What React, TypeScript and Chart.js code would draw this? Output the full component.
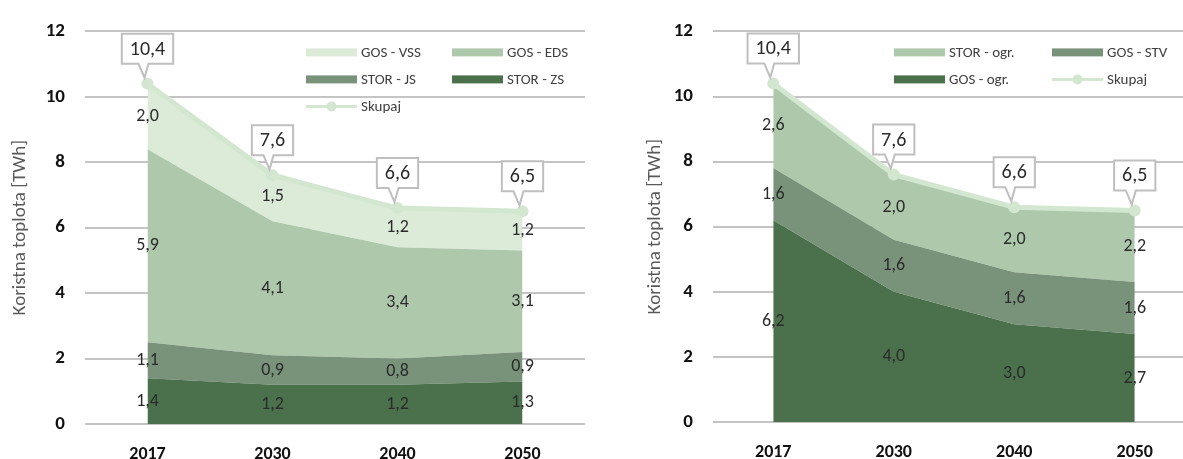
import React, { useEffect, useRef } from "react";
import { Chart, registerables } from "chart.js";

Chart.register(...registerables);

const FONT = "Carlito, Lato, 'Open Sans', sans-serif";

// ---- data ----
const years = ["2017", "2030", "2040", "2050"];
const yMin = 0;
const yMax = 12;
const yStep = 2;

const leftStorZS = [1.4, 1.2, 1.2, 1.3];
const leftStorJS = [1.1, 0.9, 0.8, 0.9];
const leftGosEDS = [5.9, 4.1, 3.4, 3.1];
const leftGosVSS = [2.0, 1.5, 1.2, 1.2];
const leftTotal = [10.4, 7.6, 6.6, 6.5];

const rightGosOgr = [6.2, 4.0, 3.0, 2.7];
const rightGosSTV = [1.6, 1.6, 1.6, 1.6];
const rightStorOgr = [2.6, 2.0, 2.0, 2.2];
const rightTotal = [10.4, 7.6, 6.6, 6.5];

const yTitle = "Koristna toplota [TWh]";
const totalLabel = "Skupaj";

// ---- colours ----
const C_DARK = "#4b704c";
const C_MID = "#79937a";
const C_LIGHT = "#aec8ac";
const C_PALE = "#dbebd7";
const C_LINE = "#d3e7d0";

type Area = { label: string; data: number[]; color: string };
type LegendItem = { label: string; color: string; type: "area" | "line"; col: number; row: number };

const fmt = (v: number) => v.toFixed(1).replace(".", ",");

function buildChart(
  canvas: HTMLCanvasElement,
  areas: Area[],
  total: number[],
  legend: LegendItem[],
  yWidth: number,
  xHeight: number,
  padRight: number,
  titlePad: number
) {
  const datasets: any[] = areas.map((a, i) => ({
    type: "line",
    label: a.label,
    data: a.data,
    backgroundColor: a.color,
    borderColor: a.color,
    borderWidth: 0,
    pointRadius: 0,
    fill: i === 0 ? "origin" : "-1",
    tension: 0,
    stack: "areas",
    order: 1,
  }));
  datasets.push({
    type: "line",
    label: totalLabel,
    data: total,
    borderColor: C_LINE,
    backgroundColor: C_LINE,
    borderWidth: 5,
    pointRadius: 6,
    pointBorderWidth: 0,
    pointBackgroundColor: C_LINE,
    fill: false,
    tension: 0,
    stack: "total",
    order: 0,
  });
  const areaCount = areas.length;

  const overlay = {
    id: "overlay",
    afterDatasetsDraw(chart: any) {
      const ctx = chart.ctx;
      const y = chart.scales.y;
      ctx.save();
      // value labels in the middle of each band
      ctx.font = `18px ${FONT}`;
      ctx.fillStyle = "#2b2b2b";
      ctx.textAlign = "center";
      ctx.textBaseline = "middle";
      const base = years.map(() => 0);
      areas.forEach((a, di) => {
        const meta = chart.getDatasetMeta(di);
        a.data.forEach((v, i) => {
          const px = meta.data[i].x;
          const py = y.getPixelForValue(base[i] + v / 2);
          ctx.fillText(fmt(v), px, py);
          base[i] += v;
        });
      });
      // callouts for the total
      const tm = chart.getDatasetMeta(areaCount);
      tm.data.forEach((pt: any, i: number) => {
        const text = fmt(total[i]);
        ctx.font = `20px ${FONT}`;
        const w = ctx.measureText(text).width + 16;
        const h = 30;
        const cx = pt.x;
        const bottom = pt.y - 20;
        const top = bottom - h;
        const left = cx - w / 2;
        ctx.beginPath();
        ctx.moveTo(left, top);
        ctx.lineTo(left + w, top);
        ctx.lineTo(left + w, bottom);
        ctx.lineTo(cx + 1, bottom);
        ctx.lineTo(cx - 3, pt.y - 6);
        ctx.lineTo(cx - 9, bottom);
        ctx.lineTo(left, bottom);
        ctx.closePath();
        ctx.fillStyle = "#ffffff";
        ctx.fill();
        ctx.lineWidth = 2;
        ctx.strokeStyle = "#bfbfbf";
        ctx.stroke();
        ctx.fillStyle = "#2b2b2b";
        ctx.fillText(text, cx, top + h / 2 + 1);
      });
      // legend
      const ca = chart.chartArea;
      ctx.font = `15px ${FONT}`;
      ctx.textAlign = "left";
      legend.forEach((it) => {
        const lx = ca.left + it.col;
        const ly = ca.top + 21 + it.row * 27;
        if (it.type === "area") {
          ctx.fillStyle = it.color;
          ctx.fillRect(lx, ly - 4, 51, 8);
        } else {
          ctx.strokeStyle = it.color;
          ctx.lineWidth = 3;
          ctx.beginPath();
          ctx.moveTo(lx, ly);
          ctx.lineTo(lx + 51, ly);
          ctx.stroke();
          ctx.fillStyle = it.color;
          ctx.beginPath();
          ctx.arc(lx + 25.5, ly, 5, 0, Math.PI * 2);
          ctx.fill();
        }
        ctx.fillStyle = "#404040";
        ctx.fillText(it.label, lx + 55, ly + 1);
      });
      ctx.restore();
    },
  };

  return new Chart(canvas, {
    type: "line",
    data: { labels: years, datasets },
    plugins: [overlay],
    options: {
      responsive: false,
      animation: false,
      devicePixelRatio: 1,
      layout: { padding: { top: 24, right: padRight, bottom: 0, left: 0 } },
      plugins: { legend: { display: false }, tooltip: { enabled: false } },
      scales: {
        x: {
          offset: true,
          grid: { display: false, drawTicks: false },
          border: { display: false },
          ticks: { color: "#111111", font: { family: FONT, size: 18, weight: "bold" }, padding: 20 },
          afterFit: (s: any) => {
            s.height = xHeight;
          },
        },
        y: {
          stacked: true,
          min: yMin,
          max: yMax,
          grid: { color: "#c4c4c4", lineWidth: 2, drawTicks: false },
          border: { display: false },
          ticks: {
            stepSize: yStep,
            color: "#111111",
            font: { family: FONT, size: 19, weight: "bold" },
            padding: 20,
          },
          title: {
            display: true,
            text: yTitle,
            color: "#595959",
            font: { family: FONT, size: 19 },
            padding: { top: titlePad, bottom: 0 },
          },
          afterFit: (s: any) => {
            s.width = yWidth;
          },
        },
      },
    } as any,
  });
}

export default function App() {
  const leftRef = useRef<HTMLCanvasElement>(null);
  const rightRef = useRef<HTMLCanvasElement>(null);

  useEffect(() => {
    const c1 = buildChart(
      leftRef.current!,
      [
        { label: "STOR - ZS", data: leftStorZS, color: C_DARK },
        { label: "STOR - JS", data: leftStorJS, color: C_MID },
        { label: "GOS - EDS", data: leftGosEDS, color: C_LIGHT },
        { label: "GOS - VSS", data: leftGosVSS, color: C_PALE },
      ],
      leftTotal,
      [
        { label: "GOS - VSS", color: C_PALE, type: "area", col: 221, row: 0 },
        { label: "GOS - EDS", color: C_LIGHT, type: "area", col: 367, row: 0 },
        { label: "STOR - JS", color: C_MID, type: "area", col: 221, row: 1 },
        { label: "STOR - ZS", color: C_DARK, type: "area", col: 367, row: 1 },
        { label: totalLabel, color: C_LINE, type: "line", col: 221, row: 2 },
      ],
      85,
      35,
      15,
      9
    );
    const c2 = buildChart(
      rightRef.current!,
      [
        { label: "GOS - ogr.", data: rightGosOgr, color: C_DARK },
        { label: "GOS - STV", data: rightGosSTV, color: C_MID },
        { label: "STOR - ogr.", data: rightStorOgr, color: C_LIGHT },
      ],
      rightTotal,
      [
        { label: "STOR - ogr.", color: C_LIGHT, type: "area", col: 181, row: 0 },
        { label: "GOS - STV", color: C_MID, type: "area", col: 339, row: 0 },
        { label: "GOS - ogr.", color: C_DARK, type: "area", col: 181, row: 1 },
        { label: totalLabel, color: C_LINE, type: "line", col: 339, row: 1 },
      ],
      78,
      37,
      15,
      9
    );
    return () => {
      c1.destroy();
      c2.destroy();
    };
  }, []);

  return (
    <div
      style={{
        position: "fixed",
        left: 0,
        top: 0,
        width: 1183,
        height: 459,
        overflow: "hidden",
        background: "#ffffff",
      }}
    >
      <canvas ref={leftRef} width={600} height={459} style={{ position: "absolute", left: 0, top: 0 }} />
      <canvas ref={rightRef} width={575} height={459} style={{ position: "absolute", left: 635, top: 0 }} />
    </div>
  );
}
